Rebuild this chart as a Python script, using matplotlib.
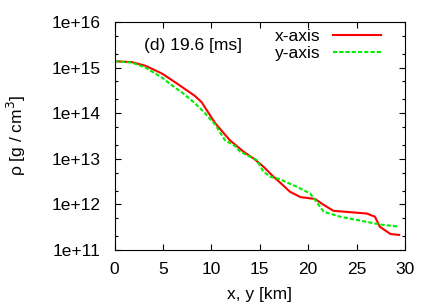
import numpy as np
import matplotlib.pyplot as plt
from matplotlib.ticker import LogLocator, NullFormatter, FixedLocator

plt.rcParams['font.family'] = ['Liberation Sans', 'DejaVu Sans']

# 密度分布 (log10 rho)
x_red = [0.0, 1.8, 3.2, 4.9, 6.25, 8.3, 9.0, 10.4, 11.9, 13.3, 14.34, 15.37, 16.4,
         17.3, 18.1, 19.2, 20.7, 21.6, 22.6, 24.3, 26.05, 26.9, 27.4, 28.5, 29.4]
lr_red = [15.14, 15.12, 15.04, 14.87, 14.68, 14.38, 14.24, 13.78, 13.41, 13.16,
          13.01, 12.83, 12.61, 12.44, 12.28, 12.16, 12.12, 11.99, 11.86, 11.83, 11.80,
          11.73, 11.51, 11.35, 11.33]

x_green = [0.0, 1.8, 3.2, 4.9, 6.25, 7.0, 8.3, 9.35, 10.4, 11.4, 12.45, 12.96, 14.7,
           15.37, 16.06, 17.1, 18.8, 20.2, 20.7, 21.6, 23.3, 25.0, 27.4, 29.4]
lr_green = [15.14, 15.11, 15.0, 14.78, 14.56, 14.45, 14.22, 14.0, 13.75, 13.41, 13.28,
            13.16, 12.97, 12.72, 12.61, 12.55, 12.39, 12.24, 12.10, 11.84, 11.73, 11.66,
            11.56, 11.51]

rho_red = 10 ** np.array(lr_red)
rho_green = 10 ** np.array(lr_green)

fig = plt.figure(figsize=(4.36, 3.05), dpi=100)
ax = fig.add_axes([114.5 / 436, 1 - 250 / 305, (405 - 114.5) / 436, (250 - 22) / 305])

ax.plot(x_red, rho_red, color="#ff0000", lw=1.5, label="x-axis")
ax.plot(x_green, rho_green, color="#00ee00", lw=1.5, ls=(0, (2, 1)), label="y-axis")

ax.set_yscale("log")
ax.set_xlim(0, 30)
ax.set_ylim(1e11, 1e16)
ax.xaxis.set_major_locator(FixedLocator([0, 5, 10, 15, 20, 25, 30]))
ax.yaxis.set_minor_locator(LogLocator(base=10, subs=(2.0, 5.0), numticks=10))
ax.yaxis.set_minor_formatter(NullFormatter())
ax.set_yticks([1e11, 1e12, 1e13, 1e14, 1e15, 1e16])
ax.set_yticklabels(["1e+11", "1e+12", "1e+13", "1e+14", "1e+15", "1e+16"])

ax.tick_params(which="both", direction="in", top=True, right=True, labelsize=12.5)
ax.tick_params(axis="y", pad=10)
ax.tick_params(axis="x", pad=9)
ax.tick_params(which="major", length=4, width=0.8)
ax.tick_params(which="minor", length=2.5, width=0.8)

ax.set_xlabel("x, y [km]", fontsize=12.5, labelpad=7)
ax.set_ylabel("ρ [g / cm$^3$]", fontsize=12.5, labelpad=17)

ax.text(0.10, 0.93, "(d) 19.6 [ms]", transform=ax.transAxes, fontsize=12.5, va="top")

leg = ax.legend(loc="upper right", fontsize=12.5, frameon=False, markerfirst=False,
                handlelength=2.8, handletextpad=0.7, labelspacing=0.15,
                borderaxespad=0.3, bbox_to_anchor=(0.96, 1.025))
for t in leg.get_texts():
    t.set_ha("right")

fig.savefig("out.png", dpi=100)
